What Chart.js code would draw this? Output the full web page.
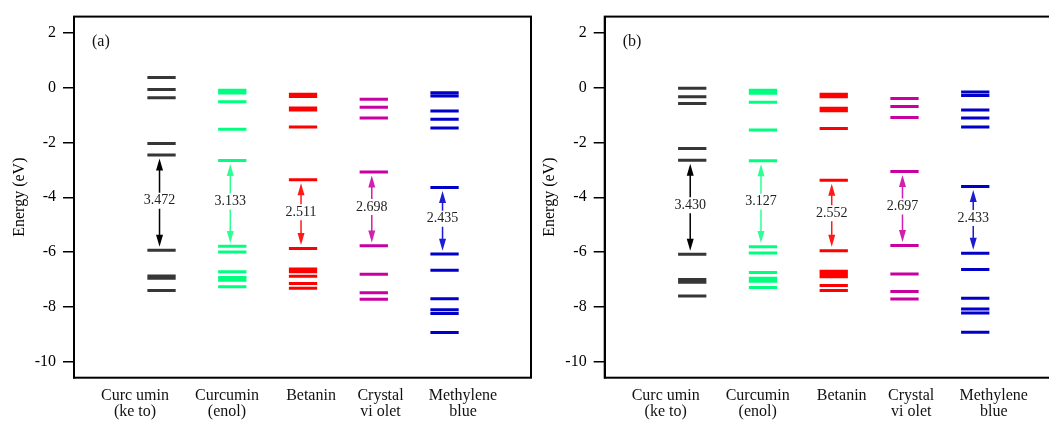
<!DOCTYPE html>
<html><head><meta charset="utf-8">
<script src="https://cdn.jsdelivr.net/npm/chart.js@4.4.1/dist/chart.umd.min.js"></script>
<style>
html,body{margin:0;padding:0;background:#fff;overflow:hidden;width:1049px;height:421px;position:relative;}
#ca{position:absolute;left:0;top:0;}
#cb{position:absolute;left:530px;top:0;}
</style></head><body>
<canvas id="ca" width="540" height="421"></canvas>
<canvas id="cb" width="540" height="421"></canvas>
<script>
// ---------- DATA ----------
const categoryLines = [['Curc umin','(ke to)'],['Curcumin','(enol)'],['Betanin'],['Crystal','vi olet'],['Methylene','blue']];
const yTicks = [2,0,-2,-4,-6,-8,-10];

// Panel (a) energy levels (eV)
const ketoA = [0.37,-0.07,-0.37,-2.04,-2.46,-5.93,-6.87,-6.95,-7.40];
const enolA = [-0.10,-0.20,-0.52,-1.52,-2.66,-5.79,-6.00,-6.72,-6.93,-7.03,-7.26];
const betaninA = [-0.24,-0.32,-0.74,-0.82,-1.44,-3.36,-5.87,-6.62,-6.72,-6.88,-7.14,-7.32];
const crystalA = [-0.42,-0.72,-1.11,-3.08,-5.77,-6.81,-7.48,-7.72];
const methyleneA = [-0.19,-0.31,-0.85,-1.15,-1.47,-3.64,-6.07,-6.66,-7.70,-8.10,-8.24,-8.93];
const lumoA = [-2.46,-2.66,-3.36,-3.08,-3.64];
const gapA = [3.472,3.133,2.511,2.698,2.435];

// Panel (b) energy levels (eV)
const ketoB = [-0.02,-0.33,-0.58,-2.22,-2.65,-6.08,-7.00,-7.10,-7.60];
const enolB = [-0.10,-0.21,-0.53,-1.55,-2.67,-5.80,-6.03,-6.74,-6.95,-7.06,-7.29];
const betaninB = [-0.24,-0.33,-0.75,-0.84,-1.49,-3.38,-5.95,-6.70,-6.80,-6.90,-7.22,-7.40];
const crystalB = [-0.40,-0.69,-1.09,-3.06,-5.76,-6.80,-7.44,-7.71];
const methyleneB = [-0.16,-0.29,-0.82,-1.11,-1.44,-3.61,-6.04,-6.63,-7.68,-8.07,-8.22,-8.92];
const lumoB = [-2.65,-2.67,-3.38,-3.06,-3.61];
const gapB = [3.430,3.127,2.552,2.697,2.433];

// ---------- STYLE / LAYOUT ----------
const levelColors = ['#363636','#00ff80','#ff0000','#c800a0','#0000c8'];
const arrowColors = ['#000000','#2eff95','#ff1a1a','#d21fae','#1c1cd4'];
const LABEL_X = [0.625,1.925,3.113,4.095,5.261];
const HALF = 0.2;
const SERIF = '"Liberation Serif", "Times New Roman", serif';

function levelData(levels, idx){
  const c = idx + 1, out = [];
  levels.forEach(e => { out.push({x:c-HALF,y:e},{x:c+HALF,y:e},{x:c,y:null}); });
  return out;
}

const annot = {
  id:'annot',
  afterDraw(chart, args, o){
    const {ctx, chartArea:a, scales:{x,y}} = chart;
    ctx.save();
    ctx.strokeStyle='#000'; ctx.lineWidth=2;
    ctx.strokeRect(a.left,a.top,a.right-a.left,a.bottom-a.top);
    // arrows and gap values
    o.lumo.forEach((lu,i)=>{
      const ho = lu - o.gap[i];
      const px = x.getPixelForValue(i+1) - 2;
      const yl = y.getPixelForValue(lu), yh = y.getPixelForValue(ho);
      const t1 = yl + 3.5, t2 = yh - 3.5;
      const ym = (yl+yh)/2 - 2;
      const hl = 12, hw = 3.5;
      const col = arrowColors[i];
      ctx.strokeStyle = col; ctx.fillStyle = col; ctx.lineWidth = 1.5;
      ctx.beginPath();
      ctx.moveTo(px, t1+hl-1); ctx.lineTo(px, ym-8);
      ctx.moveTo(px, ym+8); ctx.lineTo(px, t2-hl+1);
      ctx.stroke();
      ctx.beginPath();
      ctx.moveTo(px, t1); ctx.lineTo(px-hw, t1+hl); ctx.lineTo(px+hw, t1+hl); ctx.closePath();
      ctx.moveTo(px, t2); ctx.lineTo(px-hw, t2-hl); ctx.lineTo(px+hw, t2-hl); ctx.closePath();
      ctx.fill();
      ctx.fillStyle = '#222';
      ctx.font = '14px ' + SERIF;
      ctx.textAlign = 'center'; ctx.textBaseline = 'middle';
      ctx.fillText(o.gap[i].toFixed(3), px, ym);
    });
    // category labels
    ctx.fillStyle = '#111';
    ctx.font = '16px ' + SERIF;
    ctx.textAlign = 'center'; ctx.textBaseline = 'alphabetic';
    categoryLines.forEach((lines,i)=>{
      const px = x.getPixelForValue(LABEL_X[i]);
      lines.forEach((t,j)=> ctx.fillText(t, px, 400 + j*15.5));
    });
    // panel label
    ctx.textAlign = 'left';
    ctx.fillText(o.tag, a.left + 18, 46);
    ctx.restore();
  }
};

function makeChart(id, sets, lumo, gap, tag, yw, padR){
  const datasets = sets.map((lv,i)=>({
    data: levelData(lv,i), borderColor: levelColors[i], borderWidth: 3,
    pointRadius: 0, tension: 0, spanGaps: false, borderCapStyle: 'butt', fill: false
  }));
  return new Chart(document.getElementById(id), {
    type: 'line',
    data: {datasets},
    options: {
      responsive: false, animation: false,
      layout: {padding: {top: 14.7, bottom: 43.3, left: 0, right: padR}},
      plugins: {legend: {display:false}, tooltip: {enabled:false}, annot: {lumo, gap, tag}},
      scales: {
        x: {type:'linear', display:false, min:-0.237, max:6.222},
        y: {
          type:'linear', min:-10.58, max:2.59,
          afterBuildTicks(s){ s.ticks = yTicks.map(v=>({value:v})); },
          afterFit(s){ s.width = yw; },
          ticks: {font:{size:16, family:SERIF}, color:'#000', padding:7},
          grid: {drawOnChartArea:false, drawTicks:true, tickLength:11, color:'#000', lineWidth:1.5},
          border: {display:true, color:'#000', width:2},
          title: {display:true, text:'Energy (eV)', font:{size:16, family:SERIF}, color:'#000', padding:{top:10, bottom:0}}
        }
      }
    },
    plugins: [annot]
  });
}

makeChart('ca', [ketoA, enolA, betaninA, crystalA, methyleneA], lumoA, gapA, '(a)', 74, 9);
makeChart('cb', [ketoB, enolB, betaninB, crystalB, methyleneB], lumoB, gapB, '(b)', 74.7, 8.3);
</script>
</body></html>
